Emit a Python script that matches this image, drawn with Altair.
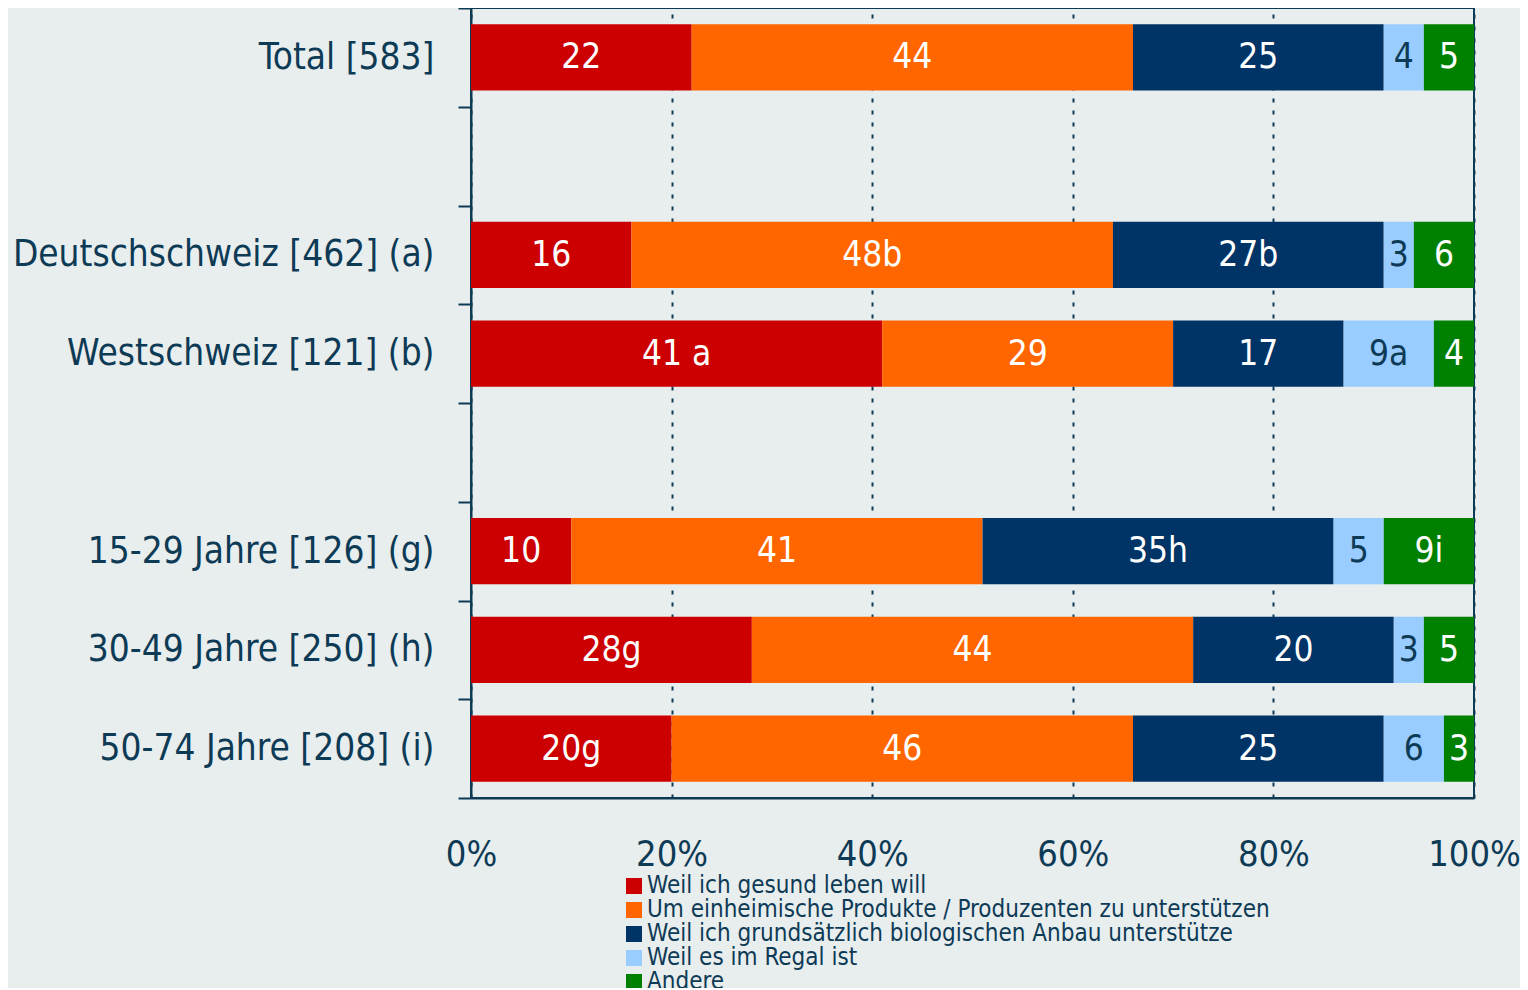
import altair as alt
import pandas as pd

rows = ["Total [583]", " ", "Deutschschweiz [462] (a)", "Westschweiz [121] (b)", "  ",
        "15-29 Jahre [126] (g)", "30-49 Jahre [250] (h)", "50-74 Jahre [208] (i)"]
groups = ["Total [583]", "Deutschschweiz [462] (a)", "Westschweiz [121] (b)",
          "15-29 Jahre [126] (g)", "30-49 Jahre [250] (h)", "50-74 Jahre [208] (i)"]
series = ["Weil ich gesund leben will",
          "Um einheimische Produkte / Produzenten zu unterstützen",
          "Weil ich grundsätzlich biologischen Anbau unterstütze",
          "Weil es im Regal ist",
          "Andere"]
colors = ["#CC0000", "#FF6600", "#003366", "#99CCFF", "#008000"]

gesund = [22, 16, 41, 10, 28, 20]
einheimisch = [44, 48, 29, 41, 44, 46]
bio = [25, 27, 17, 35, 20, 25]
regal = [4, 3, 9, 5, 3, 6]
andere = [5, 6, 4, 9, 5, 3]

lab_gesund = ["22", "16", "41 a", "10", "28g", "20g"]
lab_einheimisch = ["44", "48b", "29", "41", "44", "46"]
lab_bio = ["25", "27b", "17", "35h", "20", "25"]
lab_regal = ["4", "3", "9a", "5", "3", "6"]
lab_andere = ["5", "6", "4", "9i", "5", "3"]

x_ticks = [0, 20, 40, 60, 80, 100]

vals = [gesund, einheimisch, bio, regal, andere]
labs = [lab_gesund, lab_einheimisch, lab_bio, lab_regal, lab_andere]
recs = []
for si, s in enumerate(series):
    for gi, g in enumerate(groups):
        recs.append({"row": g, "series": s, "order": si,
                     "value": vals[si][gi], "label": labs[si][gi]})
df = pd.DataFrame(recs)

DARK = "#0D3A55"
FONT = "DejaVu Sans Condensed"

y_enc = alt.Y("row:N", sort=rows,
              scale=alt.Scale(domain=rows, paddingInner=0, paddingOuter=0),
              axis=alt.Axis(title=None, tickBand="extent", grid=False,
                            labelFontSize=36.7, labelColor=DARK, labelFont=FONT,
                            labelPadding=24, tickSize=13, tickWidth=2, tickColor=DARK,
                            domainColor=DARK, domainWidth=2, labelLimit=600))

base = alt.Chart(df).transform_window(
    cum="sum(value)", groupby=["row"], sort=[alt.SortField("order")],
    frame=[None, 0]
).transform_calculate(mid="datum.cum - datum.value / 2")

bars = base.mark_bar(height={"band": 0.67}).encode(
    y=y_enc,
    x=alt.X("value:Q", stack="zero",
            scale=alt.Scale(domain=[0, 100], nice=False),
            axis=alt.Axis(title=None, values=x_ticks, labelExpr="datum.value + '%'",
                          grid=True, gridDash=[4, 8], gridColor=DARK, gridWidth=2,
                          gridOpacity=1, ticks=False, labelPadding=39,
                          labelFontSize=36, labelColor=DARK, labelFont=FONT,
                          domainColor=DARK, domainWidth=2, labelFlush=False)),
    color=alt.Color("series:N", scale=alt.Scale(domain=series, range=colors),
                    legend=alt.Legend(title=None, orient="none", legendX=151, legendY=866,
                                      symbolType="square", symbolSize=256,
                                      symbolStrokeWidth=0, labelFontSize=24,
                                      labelFont=FONT, labelColor=DARK, labelOffset=1,
                                      rowPadding=0, padding=0, labelLimit=900)),
    order=alt.Order("order:Q"),
)

texts = base.mark_text(fontSize=35, font=FONT).encode(
    y=alt.Y("row:N", sort=rows),
    x=alt.X("mid:Q"),
    text="label:N",
    color=alt.condition(alt.datum.series == "Weil es im Regal ist",
                        alt.value(DARK), alt.value("white")),
)

chart = alt.layer(bars, texts).properties(
    width=1003, height=790,
    autosize=alt.AutoSizeParams(type="none"),
    padding={"left": 463, "top": 0, "right": 46, "bottom": 190},
    background="#E8EDEE",
).configure_view(stroke=DARK, strokeWidth=2)

chart.save("out.html", embed_options={"renderer": "svg", "actions": False})
